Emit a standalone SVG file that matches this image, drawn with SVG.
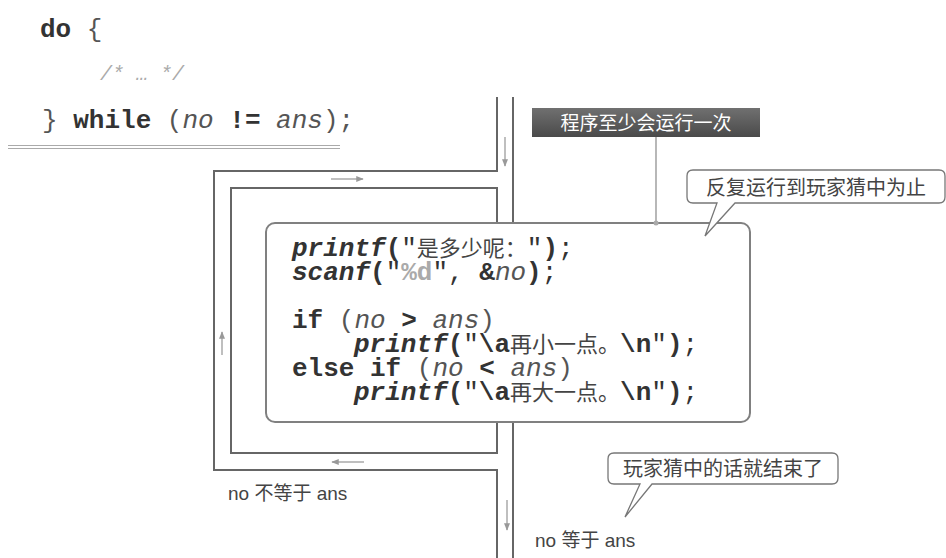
<svg xmlns="http://www.w3.org/2000/svg" width="946" height="558" viewBox="0 0 946 558">
<defs>
<style>
.code{font-family:"Liberation Mono","Noto Sans CJK SC",monospace;font-size:26px;fill:#333;}
.b{font-weight:bold}
.i{font-style:italic}
.lt{font-weight:normal;fill:#555}
.gr{fill:#aaa;font-weight:bold}
.cjk{font-family:"Noto Sans CJK SC",sans-serif;font-size:22px;font-weight:normal;fill:#444}
.pipe{fill:none;stroke:#666;stroke-width:2}
.arr{stroke:#aaa;stroke-width:1.5;fill:none;marker-end:url(#ah)}
.lbl{font-family:"Liberation Sans","Noto Sans CJK SC",sans-serif;font-size:19px;fill:#444}
.call{font-family:"Noto Sans CJK SC",sans-serif;font-size:20px;fill:#444}
.bubble{fill:#fff;stroke:#777;stroke-width:1.3}
</style>
<linearGradient id="ban" x1="0" y1="0" x2="0" y2="1">
<stop offset="0" stop-color="#707070"/>
<stop offset="1" stop-color="#4a4a4a"/>
</linearGradient>
<marker id="ah" viewBox="0 0 10 10" refX="9" refY="5" markerWidth="5" markerHeight="5" orient="auto" markerUnits="strokeWidth">
<path d="M0,1 L10,5 L0,9 Z" fill="#999"/>
</marker>
</defs>
<rect width="946" height="558" fill="#fff"/>

<g id="snippet">
<text class="code" x="40" y="37" xml:space="preserve"><tspan class="b">do</tspan> <tspan class="lt">{</tspan></text>
<text class="code i" x="100" y="80" style="font-size:20px;fill:#aaa">/* … */</text>
<text class="code" x="42" y="128" xml:space="preserve"><tspan class="lt">}</tspan> <tspan class="b">while</tspan> <tspan class="lt">(</tspan><tspan class="i lt">no</tspan> <tspan class="b">!=</tspan> <tspan class="i lt">ans</tspan><tspan class="lt">);</tspan></text>
<line x1="8" y1="145.5" x2="340" y2="145.5" stroke="#aaa" stroke-width="1.2"/>
<line x1="8" y1="148.5" x2="340" y2="148.5" stroke="#aaa" stroke-width="1.2"/>
</g>

<g id="connectors">
<path class="pipe" d="M497,97 V171 H214 V470 H497 V558"/>
<path class="pipe" d="M513,97 V558"/>
<path class="pipe" d="M497,188 H231 V453 H497 Z"/>
<line class="arr" x1="505" y1="137" x2="505" y2="166"/>
<line class="arr" x1="331" y1="179" x2="363" y2="179"/>
<line class="arr" x1="222" y1="355" x2="222" y2="332"/>
<line class="arr" x1="364" y1="462" x2="332" y2="462"/>
<line class="arr" x1="507" y1="500" x2="507" y2="530"/>
<line x1="656" y1="137" x2="656" y2="223" stroke="#888" stroke-width="1.2"/>
</g>

<g id="loop-body">
<rect x="266" y="223" width="484" height="199" rx="9" fill="#fff" stroke="#808080" stroke-width="2"/>
<circle cx="656" cy="223" r="2.5" fill="#aaa"/>
<text class="code" x="292" y="256" xml:space="preserve"><tspan class="b i">printf</tspan><tspan class="b">(</tspan>"<tspan class="cjk">是多少呢：</tspan>"<tspan class="b">)</tspan>;</text>
<text class="code" x="292" y="280" xml:space="preserve"><tspan class="b i">scanf</tspan><tspan class="b">(</tspan>"<tspan class="gr">%d</tspan>", <tspan class="b">&amp;</tspan><tspan class="i lt">no</tspan><tspan class="b">)</tspan>;</text>
<text class="code" x="292" y="328" xml:space="preserve"><tspan class="b">if</tspan> <tspan class="lt">(</tspan><tspan class="i lt">no</tspan> <tspan class="b">&gt;</tspan> <tspan class="i lt">ans</tspan><tspan class="lt">)</tspan></text>
<text class="code" x="354" y="352" xml:space="preserve"><tspan class="b i">printf</tspan><tspan class="b">(</tspan>"<tspan class="b">\a</tspan><tspan class="cjk">再小一点。</tspan><tspan class="b">\n</tspan>"<tspan class="b">)</tspan>;</text>
<text class="code" x="292" y="376" xml:space="preserve"><tspan class="b">else if</tspan> <tspan class="lt">(</tspan><tspan class="i lt">no</tspan> <tspan class="b">&lt;</tspan> <tspan class="i lt">ans</tspan><tspan class="lt">)</tspan></text>
<text class="code" x="354" y="400" xml:space="preserve"><tspan class="b i">printf</tspan><tspan class="b">(</tspan>"<tspan class="b">\a</tspan><tspan class="cjk">再大一点。</tspan><tspan class="b">\n</tspan>"<tspan class="b">)</tspan>;</text>
</g>

<g id="banner">
<rect x="532" y="108" width="228" height="29" fill="url(#ban)"/>
<text x="646" y="130" text-anchor="middle" font-family="'Noto Sans CJK SC',sans-serif" font-size="19" fill="#fff">程序至少会运行一次</text>
</g>

<g id="callout-repeat">
<path class="bubble" d="M693,170 H939 Q945,170 945,176 V197 Q945,203 939,203 H735 L705,236 L717,203 H693 Q687,203 687,197 V176 Q687,170 693,170 Z"/>
<text class="call" x="816" y="195" text-anchor="middle">反复运行到玩家猜中为止</text>
</g>

<g id="callout-end">
<path class="bubble" d="M614,453 H832 Q838,453 838,459 V478 Q838,484 832,484 H652 L625,517 L640,484 H614 Q608,484 608,478 V459 Q608,453 614,453 Z"/>
<text class="call" x="723" y="476" text-anchor="middle">玩家猜中的话就结束了</text>
</g>

<g id="labels">
<text class="lbl" x="228" y="500">no 不等于 ans</text>
<text class="lbl" x="535" y="547">no 等于 ans</text>
</g>
</svg>
